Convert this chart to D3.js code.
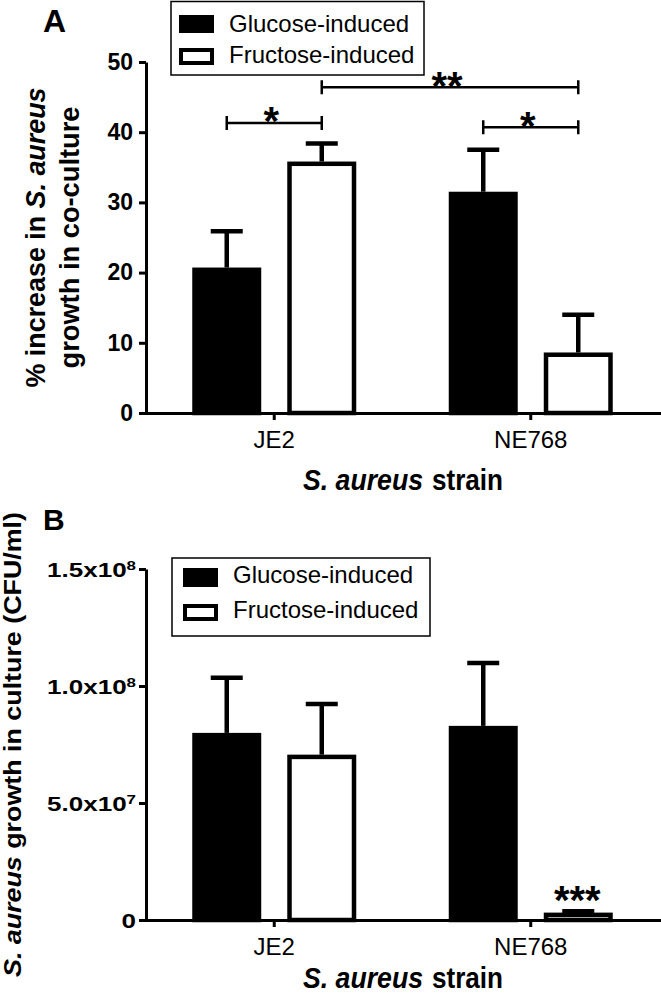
<!DOCTYPE html>
<html>
<head>
<meta charset="utf-8">
<script src="https://cdn.jsdelivr.net/npm/d3@7"></script>
<style>
  body { margin: 0; background: #fff; }
  svg { display: block; font-family: "Liberation Sans", Arial, sans-serif; }
</style>
</head>
<body>
<script>
// strains on the x axis, and the two inductions (legend order)
const strains = ["JE2", "NE768"];
const inductions = ["Glucose-induced", "Fructose-induced"];

// panel A: % increase in S. aureus growth in co-culture (mean, error)
const pctGlucose = [20.4, 31.2];
const pctGlucoseErr = [5.5, 6.3];
const pctFructose = [35.5, 8.3];
const pctFructoseErr = [2.9, 5.7];
const pctTicks = [0, 10, 20, 30, 40, 50];

// significance brackets of panel A: [strain, induction] -> [strain, induction], level in % units
const pctBrackets = [
  { from: ["JE2", "Glucose-induced"], to: ["JE2", "Fructose-induced"], level: 41.3, mark: "*" },
  { from: ["JE2", "Fructose-induced"], to: ["NE768", "Fructose-induced"], level: 46.4, mark: "**" },
  { from: ["NE768", "Glucose-induced"], to: ["NE768", "Fructose-induced"], level: 40.7, mark: "*" }
];

// panel B: S. aureus growth in culture (CFU/ml)
const cfuGlucose = [7.9e7, 8.2e7];
const cfuGlucoseErr = [2.45e7, 2.78e7];
const cfuFructose = [6.97e7, 2.2e6];
const cfuFructoseErr = [2.26e7, 1.5e6];
const cfuTicks = [0, 5e7, 1e8, 1.5e8];
const cfuTickBase = ["0", "5.0x10", "1.0x10", "1.5x10"];
const cfuTickExp = ["", "7", "8", "8"];
// single-bar marks of panel B
const cfuMarks = [{ at: ["NE768", "Fructose-induced"], mark: "***" }];

const W = 661, H = 999;
const BAR_SW = 4.5;

const svg = d3.select("body").append("svg")
    .attr("width", W)
    .attr("height", H);
svg.append("rect").attr("width", W).attr("height", H).attr("fill", "#fff");

let x = d3.scaleBand().domain(strains).range([146, 659]).padding(0);
let xSub = d3.scaleBand().domain(inductions).range([-82, 82]).paddingInner(0.274);
const cx = (s, ind) => x(s) + x.bandwidth() / 2 + xSub(ind) + xSub.bandwidth() / 2;

function drawPanel(p) {
  const g = svg.append("g");
  const y = d3.scaleLinear().domain(p.domain).range(p.range);

  const rows = [];
  strains.forEach((s, i) => {
    inductions.forEach((ind, j) => {
      rows.push({ strain: s, ind: ind, j: j, v: p.means[j][i], e: p.errs[j][i] });
    });
  });

  // bars
  const bw = xSub.bandwidth();
  g.selectAll(".bar")
    .data(rows)
    .enter().append("rect")
      .attr("x", d => cx(d.strain, d.ind) - bw / 2 + BAR_SW / 2)
      .attr("width", bw - BAR_SW)
      .attr("y", d => y(d.v))
      .attr("height", d => y(0) - y(d.v))
      .attr("fill", d => d.j === 0 ? "#000" : "#fff")
      .attr("stroke", "#000")
      .attr("stroke-width", BAR_SW);

  // error bars (upper only)
  g.selectAll(".err")
    .data(rows)
    .enter().append("line")
      .attr("x1", d => cx(d.strain, d.ind))
      .attr("x2", d => cx(d.strain, d.ind))
      .attr("y1", d => y(d.v) - BAR_SW / 2)
      .attr("y2", d => y(d.v + d.e))
      .attr("stroke", "#000")
      .attr("stroke-width", BAR_SW);
  g.selectAll(".cap")
    .data(rows)
    .enter().append("line")
      .attr("x1", d => cx(d.strain, d.ind) - 16)
      .attr("x2", d => cx(d.strain, d.ind) + 16)
      .attr("y1", d => y(d.v + d.e))
      .attr("y2", d => y(d.v + d.e))
      .attr("stroke", "#000")
      .attr("stroke-width", BAR_SW);

  // y axis
  const yAxis = d3.axisLeft(y).tickValues(p.ticks).tickSize(7).tickSizeOuter(0).tickPadding(6);
  if (p.tickFormat) yAxis.tickFormat(p.tickFormat);
  const ya = g.append("g")
      .attr("transform", "translate(146,0)")
      .call(yAxis);
  ya.selectAll("path, line").attr("stroke", "#000").attr("stroke-width", 3);
  ya.selectAll("text")
      .attr("fill", "#000")
      .attr("font-family", "Liberation Sans, Arial, sans-serif")
      .attr("font-size", 23)
      .attr("font-weight", "bold");
  if (p.customTicks) p.customTicks(ya);

  // x axis
  const xa = g.append("g")
      .attr("transform", "translate(0," + y(0) + ")")
      .call(d3.axisBottom(x).tickSize(7).tickSizeOuter(0).tickPadding(11));
  xa.selectAll("path, line").attr("stroke", "#000").attr("stroke-width", 3);
  xa.select(".domain").attr("stroke-linecap", "square");
  xa.selectAll("text")
      .attr("fill", "#000")
      .attr("font-family", "Liberation Sans, Arial, sans-serif")
      .attr("font-size", 24);

  // x axis title: italic species name + plain word, set as two texts
  g.append("text")
      .attr("x", 303)
      .attr("y", p.xTitleY)
      .attr("font-size", 30)
      .attr("font-weight", "bold")
      .attr("font-style", "italic")
      .attr("textLength", 120)
      .attr("lengthAdjust", "spacingAndGlyphs")
      .text("S. aureus");
  g.append("text")
      .attr("x", 432)
      .attr("y", p.xTitleY)
      .attr("font-size", 30)
      .attr("font-weight", "bold")
      .attr("textLength", 71)
      .attr("lengthAdjust", "spacingAndGlyphs")
      .text("strain");

  // panel letter
  g.append("text")
      .attr("x", 43)
      .attr("y", p.letterY)
      .attr("font-size", p.letterSize)
      .attr("font-weight", "bold")
      .text(p.letter);

  // legend
  const L = p.legend;
  g.append("rect")
      .attr("x", L.x).attr("y", L.y).attr("width", L.w).attr("height", L.h)
      .attr("fill", "#fff").attr("stroke", "#000").attr("stroke-width", 1.5);
  inductions.forEach((ind, j) => {
    const it = L.items[j];
    g.append("rect")
        .attr("x", L.sx + (j ? 2 : 0))
        .attr("y", it.sy + (j ? 2 : 0))
        .attr("width", 35 - (j ? 4 : 0))
        .attr("height", it.sh - (j ? 4 : 0))
        .attr("fill", j ? "#fff" : "#000")
        .attr("stroke", j ? "#000" : "none")
        .attr("stroke-width", 4);
    g.append("text")
        .attr("x", L.tx)
        .attr("y", it.base)
        .attr("font-size", 24)
        .text(ind);
  });

  return { g: g, y: y };
}

// ---- panel A
const A = drawPanel({
  domain: [0, 50], range: [413, 62],
  means: [pctGlucose, pctFructose], errs: [pctGlucoseErr, pctFructoseErr],
  ticks: pctTicks, tickFormat: d3.format("d"),
  xTitleY: 490,
  letter: "A", letterY: 32, letterSize: 32,
  legend: { x: 171, y: 1.5, w: 253, h: 73.5, sx: 179, tx: 229,
            items: [{ sy: 15, sh: 18, base: 32 }, { sy: 48, sh: 17, base: 63 }] }
});

const ytA = A.g.append("text")
    .attr("transform", "translate(44.5,237.5) rotate(-90)")
    .attr("text-anchor", "middle")
    .attr("font-size", 28)
    .attr("font-weight", "bold")
    .attr("textLength", 300)
    .attr("lengthAdjust", "spacingAndGlyphs");
ytA.append("tspan").text("% increase in ");
ytA.append("tspan").attr("font-style", "italic").text("S. aureus");
A.g.append("text")
    .attr("transform", "translate(78.5,237.5) rotate(-90)")
    .attr("text-anchor", "middle")
    .attr("font-size", 28)
    .attr("font-weight", "bold")
    .attr("textLength", 262)
    .attr("lengthAdjust", "spacingAndGlyphs")
    .text("growth in co-culture");

// brackets
pctBrackets.forEach(b => {
  const x1 = cx(b.from[0], b.from[1]), x2 = cx(b.to[0], b.to[1]), yy = A.y(b.level);
  A.g.append("path")
      .attr("d", `M${x1},${yy - 7}V${yy + 7}M${x1},${yy}H${x2}M${x2},${yy - 7}V${yy + 7}`)
      .attr("fill", "none")
      .attr("stroke", "#000")
      .attr("stroke-width", 2.5);
  A.g.append("text")
      .attr("x", (x1 + x2) / 2 - 3)
      .attr("y", yy - 10 + 0.56 * 40)
      .attr("text-anchor", "middle")
      .attr("font-size", 40)
      .attr("font-weight", "bold")
      .text(b.mark);
});

// ---- panel B
const B = drawPanel({
  domain: [0, 1.5e8], range: [920, 569],
  means: [cfuGlucose, cfuFructose], errs: [cfuGlucoseErr, cfuFructoseErr],
  ticks: cfuTicks,
  xTitleY: 988,
  letter: "B", letterY: 530, letterSize: 30,
  legend: { x: 172, y: 558, w: 258, h: 78, sx: 183, tx: 233,
            items: [{ sy: 568, sh: 19, base: 583 }, { sy: 604, sh: 17, base: 618 }] },
  customTicks: function(ya) {
    ya.selectAll(".tick text").remove();
    ya.selectAll(".tick").each(function(d, i) {
      const t = d3.select(this).append("text")
          .attr("transform", "translate(-10,0) scale(1.3,1)")
          .attr("text-anchor", "end")
          .attr("dy", "0.37em")
          .attr("fill", "#000")
          .attr("font-weight", "bold")
          .attr("font-size", 20);
      t.append("tspan").text(cfuTickBase[i]);
      if (cfuTickExp[i]) t.append("tspan").attr("dy", -7).attr("font-size", 13).text(cfuTickExp[i]);
    });
  }
});

B.g.append("text")
    .attr("transform", "translate(21,744.5) rotate(-90)")
    .attr("text-anchor", "middle")
    .attr("font-size", 24)
    .attr("font-weight", "bold")
    .attr("textLength", 465)
    .attr("lengthAdjust", "spacingAndGlyphs")
    .call(t => {
      t.append("tspan").attr("font-style", "italic").text("S. aureus");
      t.append("tspan").text(" growth in culture (CFU/ml)");
    });

cfuMarks.forEach(m => {
  const i = strains.indexOf(m.at[0]);
  const top = cfuFructose[i] + cfuFructoseErr[i];
  B.g.append("text")
      .attr("x", cx(m.at[0], m.at[1]) - 1)
      .attr("y", B.y(top) - 20 + 0.56 * 40)
      .attr("text-anchor", "middle")
      .attr("font-size", 40)
      .attr("font-weight", "bold")
      .text(m.mark);
});
</script>
</body>
</html>
